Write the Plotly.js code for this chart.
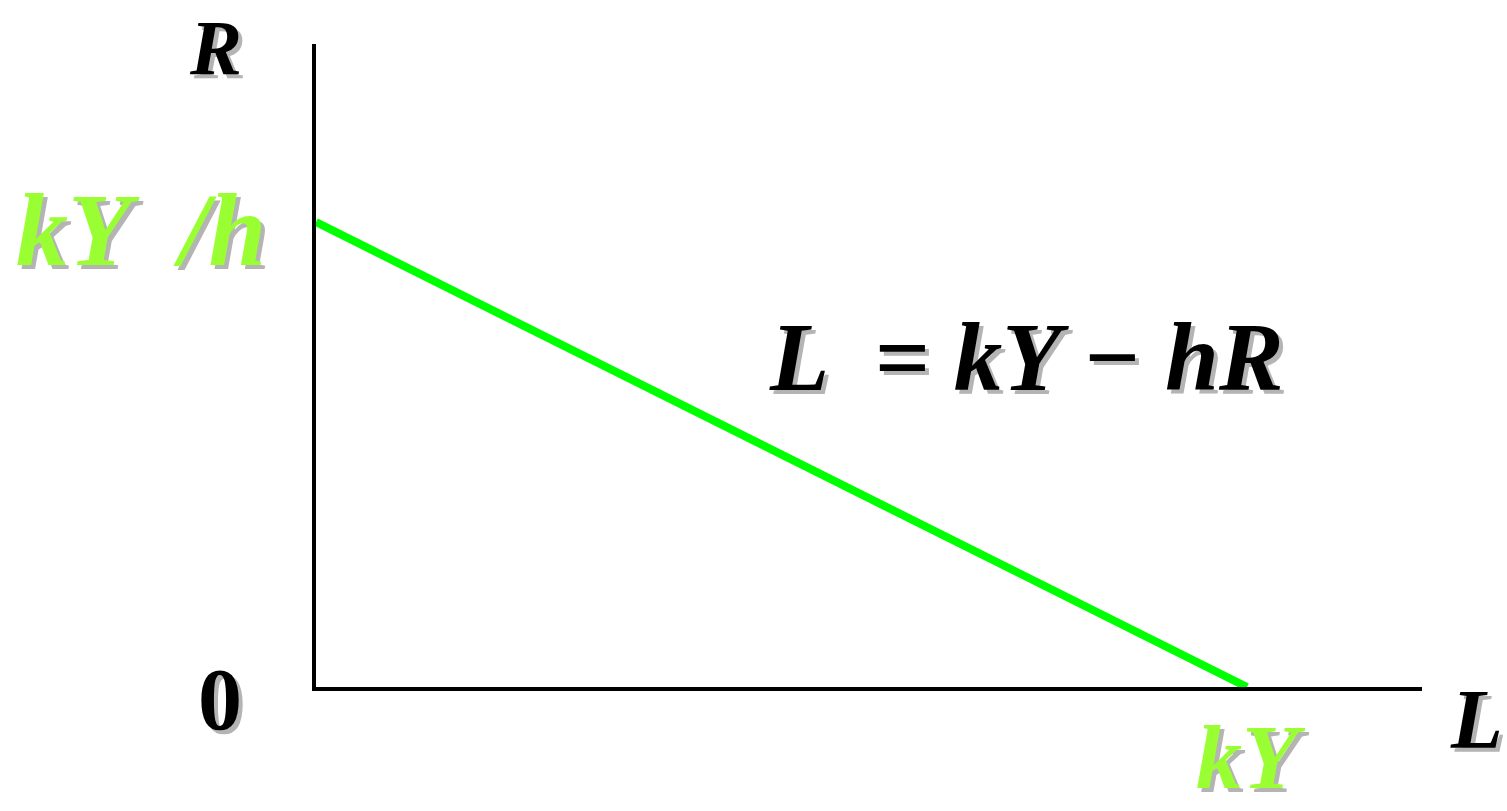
<!DOCTYPE html>
<html><head><meta charset="utf-8">
<script src="https://cdn.plot.ly/plotly-3.0.1.min.js"></script>
<style>html,body{margin:0;padding:0;background:#fff;}#chart{width:1507px;height:811px;}</style>
</head><body><div id="chart"></div>
<script>
// Money demand line L = kY - hR  (kY normalised to 1, kY/h normalised to 1)
var L_values = [0, 1];
var R_values = [1, 0];
var xRange = [0, 1.188];
var yRange = [0, 1.383];
var labels = {
  R: "R", intercept: "kY  /h", eq: "L  = kY − hR", zero: "0", L: "L", kY: "kY"
};

var shadow = "4px 4px 0px #b4b4b4";
var serif = "Liberation Serif, Times New Roman, serif";
function ann(text, x, y, size, color, style, yanchor) {
  return {text: text, xref: "paper", yref: "paper", x: x, y: y, xanchor: "center", yanchor: yanchor || "middle",
    showarrow: false, font: {family: serif, size: size, color: color, weight: "bold", style: style || "italic", shadow: shadow}};
}
var green = "#99FF33";

var data = [{
  x: L_values, y: R_values, mode: "lines", type: "scatter",
  line: {color: "#00FF00", width: 8}, cliponaxis: false, hoverinfo: "skip"
}];

var layout = {
  width: 1507, height: 811,
  margin: {l: 316, r: 85, t: 44, b: 124},
  paper_bgcolor: "#ffffff", plot_bgcolor: "#ffffff",
  showlegend: false,
  xaxis: {range: xRange, showline: true, linecolor: "#000", linewidth: 4, showgrid: false, zeroline: false,
    showticklabels: false, ticks: "", layer: "below traces", fixedrange: true},
  yaxis: {range: yRange, showline: true, linecolor: "#000", linewidth: 4, showgrid: false, zeroline: false,
    showticklabels: false, ticks: "", layer: "below traces", fixedrange: true},
  annotations: [
    ann(labels.R, -0.0913, 0.995, 78, "#000"),
    ann(labels.intercept, -0.158, 0.711, 104, green),
    ann(labels.eq, 0.642, 0.513, 97, "#000"),
    ann(labels.zero, -0.0868, -0.0202, 88, "#000", "normal"),
    ann(labels.L, 1.049, -0.050, 85, "#000"),
    ann(labels.kY, 0.845, -0.1915, 92, green, "italic", "bottom")
  ]
};
Plotly.newPlot("chart", data, layout, {staticPlot: true, displayModeBar: false});
</script></body></html>
